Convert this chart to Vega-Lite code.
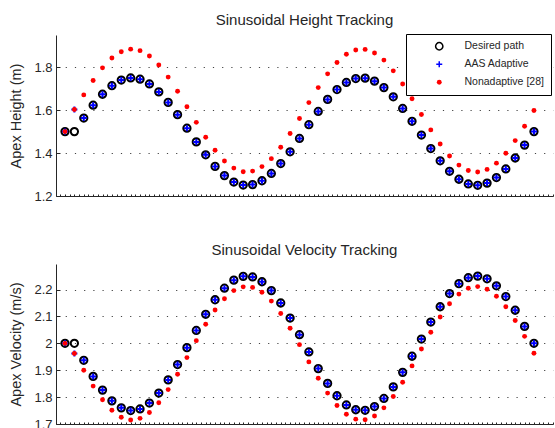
{
  "$schema": "https://vega.github.io/schema/vega-lite/v6.json",
  "padding": {"left": 8, "top": 12, "right": 0, "bottom": 0},
  "background": "white",
  "config": {
    "font": "Liberation Sans",
    "view": {"stroke": null},
    "title": {"fontSize": 15, "fontWeight": "normal", "color": "#262626", "font": "Liberation Sans", "offset": 6, "anchor": "middle", "frame": "group"},
    "axis": {"labelFont": "Liberation Sans", "titleFont": "Liberation Sans", "labelFontSize": 13, "titleFontSize": 14.5, "titleFontWeight": "normal", "labelColor": "#262626", "titleColor": "#262626", "domainColor": "#262626", "tickColor": "#262626"}
  },
  "datasets": {
    "d": [
      {"s":"Desired path","i":0,"h":1.5,"v":2},
      {"s":"Desired path","i":1,"h":1.5,"v":2},
      {"s":"Desired path","i":2,"h":1.563,"v":1.937},
      {"s":"Desired path","i":3,"h":1.623,"v":1.877},
      {"s":"Desired path","i":4,"h":1.674,"v":1.826},
      {"s":"Desired path","i":5,"h":1.714,"v":1.786},
      {"s":"Desired path","i":6,"h":1.74,"v":1.76},
      {"s":"Desired path","i":7,"h":1.75,"v":1.75},
      {"s":"Desired path","i":8,"h":1.744,"v":1.756},
      {"s":"Desired path","i":9,"h":1.722,"v":1.778},
      {"s":"Desired path","i":10,"h":1.685,"v":1.815},
      {"s":"Desired path","i":11,"h":1.636,"v":1.864},
      {"s":"Desired path","i":12,"h":1.579,"v":1.921},
      {"s":"Desired path","i":13,"h":1.516,"v":1.984},
      {"s":"Desired path","i":14,"h":1.452,"v":2.048},
      {"s":"Desired path","i":15,"h":1.392,"v":2.108},
      {"s":"Desired path","i":16,"h":1.338,"v":2.162},
      {"s":"Desired path","i":17,"h":1.295,"v":2.205},
      {"s":"Desired path","i":18,"h":1.265,"v":2.235},
      {"s":"Desired path","i":19,"h":1.251,"v":2.249},
      {"s":"Desired path","i":20,"h":1.253,"v":2.247},
      {"s":"Desired path","i":21,"h":1.271,"v":2.229},
      {"s":"Desired path","i":22,"h":1.305,"v":2.196},
      {"s":"Desired path","i":23,"h":1.351,"v":2.15},
      {"s":"Desired path","i":24,"h":1.406,"v":2.094},
      {"s":"Desired path","i":25,"h":1.468,"v":2.032},
      {"s":"Desired path","i":26,"h":1.532,"v":1.968},
      {"s":"Desired path","i":27,"h":1.594,"v":1.906},
      {"s":"Desired path","i":28,"h":1.65,"v":1.851},
      {"s":"Desired path","i":29,"h":1.696,"v":1.805},
      {"s":"Desired path","i":30,"h":1.729,"v":1.771},
      {"s":"Desired path","i":31,"h":1.747,"v":1.753},
      {"s":"Desired path","i":32,"h":1.749,"v":1.751},
      {"s":"Desired path","i":33,"h":1.735,"v":1.765},
      {"s":"Desired path","i":34,"h":1.705,"v":1.795},
      {"s":"Desired path","i":35,"h":1.662,"v":1.838},
      {"s":"Desired path","i":36,"h":1.608,"v":1.892},
      {"s":"Desired path","i":37,"h":1.548,"v":1.952},
      {"s":"Desired path","i":38,"h":1.484,"v":2.016},
      {"s":"Desired path","i":39,"h":1.421,"v":2.079},
      {"s":"Desired path","i":40,"h":1.364,"v":2.136},
      {"s":"Desired path","i":41,"h":1.315,"v":2.185},
      {"s":"Desired path","i":42,"h":1.278,"v":2.222},
      {"s":"Desired path","i":43,"h":1.256,"v":2.244},
      {"s":"Desired path","i":44,"h":1.25,"v":2.25},
      {"s":"Desired path","i":45,"h":1.26,"v":2.24},
      {"s":"Desired path","i":46,"h":1.286,"v":2.214},
      {"s":"Desired path","i":47,"h":1.326,"v":2.174},
      {"s":"Desired path","i":48,"h":1.377,"v":2.123},
      {"s":"Desired path","i":49,"h":1.437,"v":2.063},
      {"s":"Desired path","i":50,"h":1.5,"v":2},
      {"s":"AAS Adaptive","i":0,"h":1.5,"v":2},
      {"s":"AAS Adaptive","i":1,"h":1.603,"v":1.962},
      {"s":"AAS Adaptive","i":2,"h":1.563,"v":1.937},
      {"s":"AAS Adaptive","i":3,"h":1.623,"v":1.877},
      {"s":"AAS Adaptive","i":4,"h":1.674,"v":1.826},
      {"s":"AAS Adaptive","i":5,"h":1.714,"v":1.786},
      {"s":"AAS Adaptive","i":6,"h":1.74,"v":1.76},
      {"s":"AAS Adaptive","i":7,"h":1.75,"v":1.75},
      {"s":"AAS Adaptive","i":8,"h":1.744,"v":1.756},
      {"s":"AAS Adaptive","i":9,"h":1.722,"v":1.778},
      {"s":"AAS Adaptive","i":10,"h":1.685,"v":1.815},
      {"s":"AAS Adaptive","i":11,"h":1.636,"v":1.864},
      {"s":"AAS Adaptive","i":12,"h":1.579,"v":1.921},
      {"s":"AAS Adaptive","i":13,"h":1.516,"v":1.984},
      {"s":"AAS Adaptive","i":14,"h":1.452,"v":2.048},
      {"s":"AAS Adaptive","i":15,"h":1.392,"v":2.108},
      {"s":"AAS Adaptive","i":16,"h":1.338,"v":2.162},
      {"s":"AAS Adaptive","i":17,"h":1.295,"v":2.205},
      {"s":"AAS Adaptive","i":18,"h":1.265,"v":2.235},
      {"s":"AAS Adaptive","i":19,"h":1.251,"v":2.249},
      {"s":"AAS Adaptive","i":20,"h":1.253,"v":2.247},
      {"s":"AAS Adaptive","i":21,"h":1.271,"v":2.229},
      {"s":"AAS Adaptive","i":22,"h":1.305,"v":2.196},
      {"s":"AAS Adaptive","i":23,"h":1.351,"v":2.15},
      {"s":"AAS Adaptive","i":24,"h":1.406,"v":2.094},
      {"s":"AAS Adaptive","i":25,"h":1.468,"v":2.032},
      {"s":"AAS Adaptive","i":26,"h":1.532,"v":1.968},
      {"s":"AAS Adaptive","i":27,"h":1.594,"v":1.906},
      {"s":"AAS Adaptive","i":28,"h":1.65,"v":1.851},
      {"s":"AAS Adaptive","i":29,"h":1.696,"v":1.805},
      {"s":"AAS Adaptive","i":30,"h":1.729,"v":1.771},
      {"s":"AAS Adaptive","i":31,"h":1.747,"v":1.753},
      {"s":"AAS Adaptive","i":32,"h":1.749,"v":1.751},
      {"s":"AAS Adaptive","i":33,"h":1.735,"v":1.765},
      {"s":"AAS Adaptive","i":34,"h":1.705,"v":1.795},
      {"s":"AAS Adaptive","i":35,"h":1.662,"v":1.838},
      {"s":"AAS Adaptive","i":36,"h":1.608,"v":1.892},
      {"s":"AAS Adaptive","i":37,"h":1.548,"v":1.952},
      {"s":"AAS Adaptive","i":38,"h":1.484,"v":2.016},
      {"s":"AAS Adaptive","i":39,"h":1.421,"v":2.079},
      {"s":"AAS Adaptive","i":40,"h":1.364,"v":2.136},
      {"s":"AAS Adaptive","i":41,"h":1.315,"v":2.185},
      {"s":"AAS Adaptive","i":42,"h":1.278,"v":2.222},
      {"s":"AAS Adaptive","i":43,"h":1.256,"v":2.244},
      {"s":"AAS Adaptive","i":44,"h":1.25,"v":2.25},
      {"s":"AAS Adaptive","i":45,"h":1.26,"v":2.24},
      {"s":"AAS Adaptive","i":46,"h":1.286,"v":2.214},
      {"s":"AAS Adaptive","i":47,"h":1.326,"v":2.174},
      {"s":"AAS Adaptive","i":48,"h":1.377,"v":2.123},
      {"s":"AAS Adaptive","i":49,"h":1.437,"v":2.063},
      {"s":"AAS Adaptive","i":50,"h":1.5,"v":2},
      {"s":"Nonadaptive [28]","i":0,"h":1.5,"v":2},
      {"s":"Nonadaptive [28]","i":1,"h":1.603,"v":1.962},
      {"s":"Nonadaptive [28]","i":2,"h":1.671,"v":1.9},
      {"s":"Nonadaptive [28]","i":3,"h":1.738,"v":1.841},
      {"s":"Nonadaptive [28]","i":4,"h":1.797,"v":1.79},
      {"s":"Nonadaptive [28]","i":5,"h":1.843,"v":1.751},
      {"s":"Nonadaptive [28]","i":6,"h":1.872,"v":1.725},
      {"s":"Nonadaptive [28]","i":7,"h":1.884,"v":1.715},
      {"s":"Nonadaptive [28]","i":8,"h":1.877,"v":1.721},
      {"s":"Nonadaptive [28]","i":9,"h":1.852,"v":1.743},
      {"s":"Nonadaptive [28]","i":10,"h":1.81,"v":1.779},
      {"s":"Nonadaptive [28]","i":11,"h":1.754,"v":1.828},
      {"s":"Nonadaptive [28]","i":12,"h":1.688,"v":1.885},
      {"s":"Nonadaptive [28]","i":13,"h":1.616,"v":1.947},
      {"s":"Nonadaptive [28]","i":14,"h":1.543,"v":2.01},
      {"s":"Nonadaptive [28]","i":15,"h":1.474,"v":2.071},
      {"s":"Nonadaptive [28]","i":16,"h":1.413,"v":2.124},
      {"s":"Nonadaptive [28]","i":17,"h":1.363,"v":2.166},
      {"s":"Nonadaptive [28]","i":18,"h":1.33,"v":2.196},
      {"s":"Nonadaptive [28]","i":19,"h":1.313,"v":2.21},
      {"s":"Nonadaptive [28]","i":20,"h":1.316,"v":2.208},
      {"s":"Nonadaptive [28]","i":21,"h":1.337,"v":2.19},
      {"s":"Nonadaptive [28]","i":22,"h":1.374,"v":2.157},
      {"s":"Nonadaptive [28]","i":23,"h":1.427,"v":2.111},
      {"s":"Nonadaptive [28]","i":24,"h":1.491,"v":2.056},
      {"s":"Nonadaptive [28]","i":25,"h":1.561,"v":1.995},
      {"s":"Nonadaptive [28]","i":26,"h":1.635,"v":1.931},
      {"s":"Nonadaptive [28]","i":27,"h":1.705,"v":1.87},
      {"s":"Nonadaptive [28]","i":28,"h":1.769,"v":1.815},
      {"s":"Nonadaptive [28]","i":29,"h":1.822,"v":1.769},
      {"s":"Nonadaptive [28]","i":30,"h":1.86,"v":1.736},
      {"s":"Nonadaptive [28]","i":31,"h":1.88,"v":1.718},
      {"s":"Nonadaptive [28]","i":32,"h":1.883,"v":1.716},
      {"s":"Nonadaptive [28]","i":33,"h":1.866,"v":1.73},
      {"s":"Nonadaptive [28]","i":34,"h":1.833,"v":1.76},
      {"s":"Nonadaptive [28]","i":35,"h":1.783,"v":1.802},
      {"s":"Nonadaptive [28]","i":36,"h":1.722,"v":1.855},
      {"s":"Nonadaptive [28]","i":37,"h":1.653,"v":1.916},
      {"s":"Nonadaptive [28]","i":38,"h":1.58,"v":1.979},
      {"s":"Nonadaptive [28]","i":39,"h":1.508,"v":2.041},
      {"s":"Nonadaptive [28]","i":40,"h":1.442,"v":2.098},
      {"s":"Nonadaptive [28]","i":41,"h":1.386,"v":2.147},
      {"s":"Nonadaptive [28]","i":42,"h":1.344,"v":2.183},
      {"s":"Nonadaptive [28]","i":43,"h":1.319,"v":2.205},
      {"s":"Nonadaptive [28]","i":44,"h":1.312,"v":2.211},
      {"s":"Nonadaptive [28]","i":45,"h":1.324,"v":2.201},
      {"s":"Nonadaptive [28]","i":46,"h":1.353,"v":2.175},
      {"s":"Nonadaptive [28]","i":47,"h":1.399,"v":2.136},
      {"s":"Nonadaptive [28]","i":48,"h":1.458,"v":2.085},
      {"s":"Nonadaptive [28]","i":49,"h":1.525,"v":2.026},
      {"s":"Nonadaptive [28]","i":50,"h":1.598,"v":1.963}
    ]
  },
  "spacing": 40,
  "resolve": {"legend": {"shape": "independent", "size": "independent", "stroke": "independent", "fill": "independent"}},
  "vconcat": [
    {
      "title": {"text": "Sinusoidal Height Tracking"},
      "width": 497,
      "height": 161,
      "data": {"name": "d"},
      "mark": {"type": "point", "opacity": 1, "strokeWidth": 2},
      "encoding": {
        "x": {"field": "i", "type": "quantitative", "scale": {"domain": [-0.96, 52.03], "nice": false, "zero": false},
              "axis": {"title": null, "labels": false, "grid": false, "tickCount": 110, "tickSize": -2, "domainWidth": 1}},
        "y": {"field": "h", "type": "quantitative", "scale": {"domain": [1.2, 1.95], "nice": false, "zero": false},
              "axis": {"title": "Apex Height (m)", "values": [1.2, 1.4, 1.6, 1.8], "format": ".1~f", "grid": true, "gridDash": [1.2, 8], "gridColor": "#444", "tickSize": -4, "labelPadding": 8, "titlePadding": 10}},
        "stroke": {"field": "s", "type": "nominal", "scale": {"domain": ["Desired path", "AAS Adaptive", "Nonadaptive [28]"], "range": ["#000000", "#0000ff", "transparent"]},
                   "legend": {"title": null, "orient": "none", "legendX": 350, "legendY": -1, "strokeColor": "#000000", "fillColor": "white", "padding": 7, "symbolOffset": 21, "labelOffset": 20, "labelFontSize": 10.5, "labelFont": "Liberation Sans", "labelColor": "#262626", "rowPadding": 5}},
        "fill": {"field": "s", "type": "nominal", "scale": {"domain": ["Desired path", "AAS Adaptive", "Nonadaptive [28]"], "range": ["transparent", "transparent", "#ff0000"]}},
        "shape": {"field": "s", "type": "nominal", "scale": {"domain": ["Desired path", "AAS Adaptive", "Nonadaptive [28]"], "range": ["circle", "M-1,0H1M0,-1V1", "circle"]}},
        "size": {"field": "s", "type": "nominal", "scale": {"type": "ordinal", "domain": ["Desired path", "AAS Adaptive", "Nonadaptive [28]"], "range": [53, 36, 24]}}
      }
    },
    {
      "title": {"text": "Sinusoidal Velocity Tracking"},
      "width": 497,
      "height": 160,
      "data": {"name": "d"},
      "mark": {"type": "point", "opacity": 1, "strokeWidth": 2},
      "encoding": {
        "x": {"field": "i", "type": "quantitative", "scale": {"domain": [-0.96, 52.03], "nice": false, "zero": false},
              "axis": {"title": null, "labels": false, "grid": false, "tickCount": 110, "tickSize": -2, "domainWidth": 1}},
        "y": {"field": "v", "type": "quantitative", "scale": {"domain": [1.7, 2.295], "nice": false, "zero": false},
              "axis": {"title": "Apex Velocity (m/s)", "values": [1.7, 1.8, 1.9, 2, 2.1, 2.2], "format": ".1~f", "grid": true, "gridDash": [1.2, 8], "gridColor": "#444", "tickSize": -4, "labelPadding": 8, "titlePadding": 10}},
        "stroke": {"field": "s", "type": "nominal", "scale": {"domain": ["Desired path", "AAS Adaptive", "Nonadaptive [28]"], "range": ["#000000", "#0000ff", "transparent"]}, "legend": null},
        "fill": {"field": "s", "type": "nominal", "scale": {"domain": ["Desired path", "AAS Adaptive", "Nonadaptive [28]"], "range": ["transparent", "transparent", "#ff0000"]}, "legend": null},
        "shape": {"field": "s", "type": "nominal", "scale": {"domain": ["Desired path", "AAS Adaptive", "Nonadaptive [28]"], "range": ["circle", "M-1,0H1M0,-1V1", "circle"]}, "legend": null},
        "size": {"field": "s", "type": "nominal", "scale": {"type": "ordinal", "domain": ["Desired path", "AAS Adaptive", "Nonadaptive [28]"], "range": [53, 36, 24]}, "legend": null}
      }
    }
  ]
}
